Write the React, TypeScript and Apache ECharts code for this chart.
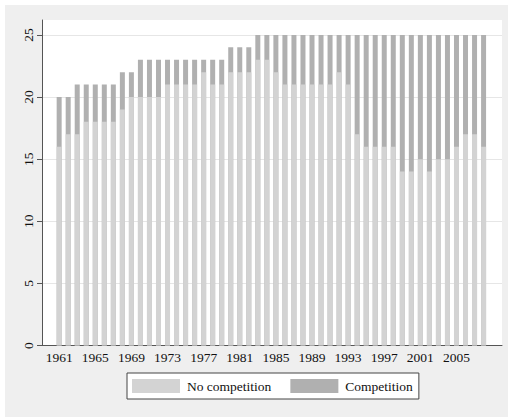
import React, { useEffect, useRef } from "react";
import * as echarts from "echarts";

const years = [
  1961, 1962, 1963, 1964, 1965, 1966, 1967, 1968, 1969, 1970, 1971, 1972,
  1973, 1974, 1975, 1976, 1977, 1978, 1979, 1980, 1981, 1982, 1983, 1984,
  1985, 1986, 1987, 1988, 1989, 1990, 1991, 1992, 1993, 1994, 1995, 1996,
  1997, 1998, 1999, 2000, 2001, 2002, 2003, 2004, 2005, 2006, 2007, 2008,
];

const noCompetition = [
  16, 17, 17, 18, 18, 18, 18, 19, 20, 20, 20, 20,
  21, 21, 21, 21, 22, 21, 21, 22, 22, 22, 23, 23,
  22, 21, 21, 21, 21, 21, 21, 22, 21, 17, 16, 16,
  16, 16, 14, 14, 15, 14, 15, 15, 16, 17, 17, 16,
];

const competition = [
  4, 3, 4, 3, 3, 3, 3, 3, 2, 3, 3, 3,
  2, 2, 2, 2, 1, 2, 2, 2, 2, 2, 2, 2,
  3, 4, 4, 4, 4, 4, 4, 3, 4, 8, 9, 9,
  9, 9, 11, 11, 10, 11, 10, 10, 9, 8, 8, 9,
];

const xTickLabels = [1961, 1965, 1969, 1973, 1977, 1981, 1985, 1989, 1993, 1997, 2001, 2005];
const yTickLabels = [0, 5, 10, 15, 20, 25];

const FONT = "'Liberation Serif', 'Times New Roman', serif";
const LIGHT = "#d3d3d3";
const DARK = "#b0b0b0";

export default function App() {
  const ref = useRef<HTMLDivElement>(null);

  useEffect(() => {
    if (!ref.current) return;
    const chart = echarts.init(ref.current, null, { renderer: "svg" });
    // stacked top of each bar (no competition + competition)
    const stackedTop = years.map((y, i) => [y, noCompetition[i] + competition[i]]);
    chart.setOption({
      animation: false,
      backgroundColor: "transparent",
      textStyle: { fontFamily: FONT },
      grid: {
        left: 42,
        right: 7,
        top: 20,
        bottom: 71.5,
        show: true,
        backgroundColor: "#ffffff",
        borderWidth: 0,
      },
      legend: {
        data: ["No competition", "Competition"],
        left: 127,
        top: 373,
        orient: "horizontal",
        icon: "rect",
        itemWidth: 48,
        itemHeight: 14,
        itemGap: 19,
        padding: [6, 6, 6, 5],
        borderColor: "#444444",
        borderWidth: 1,
        borderRadius: 0,
        backgroundColor: "#ffffff",
        textStyle: {
          fontFamily: FONT,
          fontSize: 13.5,
          color: "#111111",
          padding: [0, 0, 0, 2],
        },
      },
      xAxis: {
        type: "value",
        min: 1959.1,
        max: 2010.04,
        axisLine: { show: true, lineStyle: { color: "#555555", width: 1 } },
        axisTick: { show: false },
        splitLine: { show: false },
        axisLabel: {
          customValues: xTickLabels,
          formatter: (v: number) => String(v),
          fontFamily: FONT,
          fontSize: 13.5,
          color: "#111111",
          margin: 5,
        },
      },
      yAxis: {
        type: "value",
        min: 0,
        max: 26.2,
        interval: 5,
        axisLine: { show: true, lineStyle: { color: "#555555", width: 1 } },
        axisTick: {
          show: true,
          customValues: yTickLabels,
          length: 5,
          lineStyle: { color: "#555555" },
        },
        splitLine: { show: true, lineStyle: { color: "#e6e6e6", width: 1 } },
        axisLabel: {
          customValues: yTickLabels,
          rotate: 90,
          fontFamily: FONT,
          fontSize: 13.5,
          color: "#111111",
          margin: 7,
        },
      },
      series: [
        {
          name: "Competition",
          type: "bar",
          barWidth: 5,
          barGap: "-100%",
          itemStyle: { color: DARK },
          data: stackedTop,
          z: 2,
        },
        {
          name: "No competition",
          type: "bar",
          barWidth: 5,
          barGap: "-100%",
          itemStyle: { color: LIGHT },
          data: years.map((y, i) => [y, noCompetition[i]]),
          z: 3,
        },
      ],
    });
    return () => chart.dispose();
  }, []);

  return (
    <div style={{ position: "absolute", left: 0, top: 0, width: 509, height: 417, background: "#ffffff" }}>
      <div style={{ position: "absolute", left: 5, top: 5, width: 503, height: 412, background: "#efefef" }} />
      <div ref={ref} style={{ position: "absolute", left: 0, top: 0, width: 509, height: 417 }} />
    </div>
  );
}
